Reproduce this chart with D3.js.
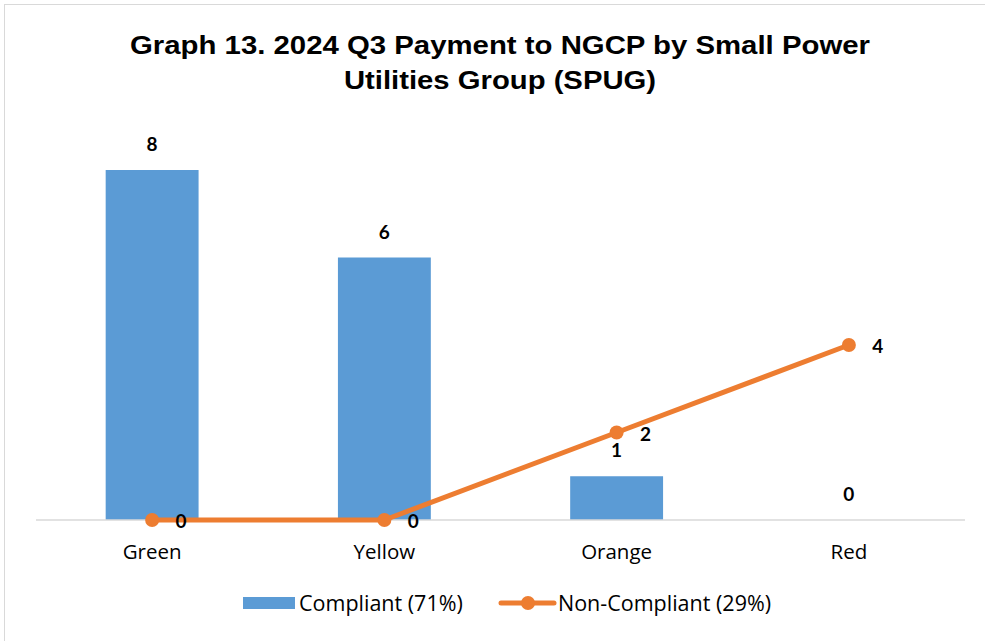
<!DOCTYPE html>
<html lang="en">
<head>
<meta charset="utf-8">
<script src="https://cdn.jsdelivr.net/npm/d3@7"></script>
<style>
  body { margin: 0; background: #fff; }
  text { font-family: "Open Sans", Lato, sans-serif; }
</style>
</head>
<body>
<div id="chart"></div>
<script>
"use strict";

const categories = ["Green", "Yellow", "Orange", "Red"];
const compliant = [8, 6, 1, 0];
const nonCompliant = [0, 0, 2, 4];
const titleLines = ["Graph 13. 2024 Q3 Payment to NGCP by Small Power", "Utilities Group (SPUG)"];
const titleWidths = [740, 312];
const legendLabels = ["Compliant (71%)", "Non-Compliant (29%)"];

const W = 985, H = 641;
const blue = "#5B9BD5", orange = "#ED7D31";

const svg = d3.select("#chart").append("svg").attr("width", W).attr("height", H);

// chart frame (right / bottom edges run off the page)
svg.append("rect").attr("x", 4.5).attr("y", 4.5).attr("width", W + 10).attr("height", H + 10)
  .attr("fill", "none").attr("stroke", "#d9d9d9");

// title
svg.append("g").selectAll("text").data(titleLines).join("text")
  .attr("x", (d, i) => 500 - titleWidths[i] / 2).attr("y", (d, i) => 54 + i * 35)
  .attr("textLength", (d, i) => titleWidths[i]).attr("lengthAdjust", "spacingAndGlyphs")
  .style("font-family", "'Liberation Sans', Arial, sans-serif")
  .style("font-weight", "bold").style("font-size", "26px").attr("fill", "#000")
  .text(d => d);

const x = d3.scaleBand().domain(categories).range([36, 965]).paddingInner(0.6).paddingOuter(0.3);
const y = d3.scaleLinear().domain([0, 9]).range([520, 126.25]);
const cx = c => x(c) + x.bandwidth() / 2;

// bars
svg.append("g").selectAll("rect").data(categories).join("rect")
  .attr("x", d => x(d)).attr("width", x.bandwidth())
  .attr("y", (d, i) => y(compliant[i]))
  .attr("height", (d, i) => y(0) - y(compliant[i]))
  .attr("fill", blue);

// x axis
const xAxis = svg.append("g").attr("transform", `translate(0,${y(0)})`)
  .call(d3.axisBottom(x).tickSize(0).tickPadding(24));
xAxis.select(".domain").attr("stroke", "#d9d9d9").attr("stroke-width", 1.5)
  .attr("d", "M36,0H965");
xAxis.selectAll("text").style("font-size", "20.5px").attr("fill", "#000")
  .style("font-family", "'Open Sans', Lato, sans-serif");

// bar labels
svg.append("g").selectAll("text").data(categories).join("text")
  .attr("x", d => cx(d)).attr("y", (d, i) => y(compliant[i]) - 19)
  .attr("text-anchor", "middle")
  .style("font-family", "Lato, sans-serif").style("font-weight", "bold").style("font-size", "19px")
  .text((d, i) => compliant[i]);

// line
const line = d3.line().x((d, i) => cx(categories[i])).y(d => y(d));
svg.append("path").datum(nonCompliant).attr("d", line)
  .attr("fill", "none").attr("stroke", orange).attr("stroke-width", 5).attr("stroke-linejoin", "round");
svg.append("g").selectAll("circle").data(nonCompliant).join("circle")
  .attr("cx", (d, i) => cx(categories[i])).attr("cy", d => y(d)).attr("r", 7).attr("fill", orange);
svg.append("g").selectAll("text").data(nonCompliant).join("text")
  .attr("x", (d, i) => cx(categories[i]) + 29).attr("y", d => y(d) + 8)
  .attr("text-anchor", "middle")
  .style("font-family", "Lato, sans-serif").style("font-weight", "bold").style("font-size", "19px")
  .text(d => d);

// legend
const lg = svg.append("g");
lg.append("rect").attr("x", 243).attr("y", 597).attr("width", 52).attr("height", 12).attr("fill", blue);
lg.append("text").attr("x", 299).attr("y", 611).style("font-size", "21.5px").text(legendLabels[0]);
lg.append("line").attr("x1", 501).attr("x2", 554).attr("y1", 603).attr("y2", 603)
  .attr("stroke", orange).attr("stroke-width", 5).attr("stroke-linecap", "round");
lg.append("circle").attr("cx", 528).attr("cy", 603).attr("r", 7).attr("fill", orange);
lg.append("text").attr("x", 558).attr("y", 611).style("font-size", "21.5px").text(legendLabels[1]);
</script>
</body>
</html>
